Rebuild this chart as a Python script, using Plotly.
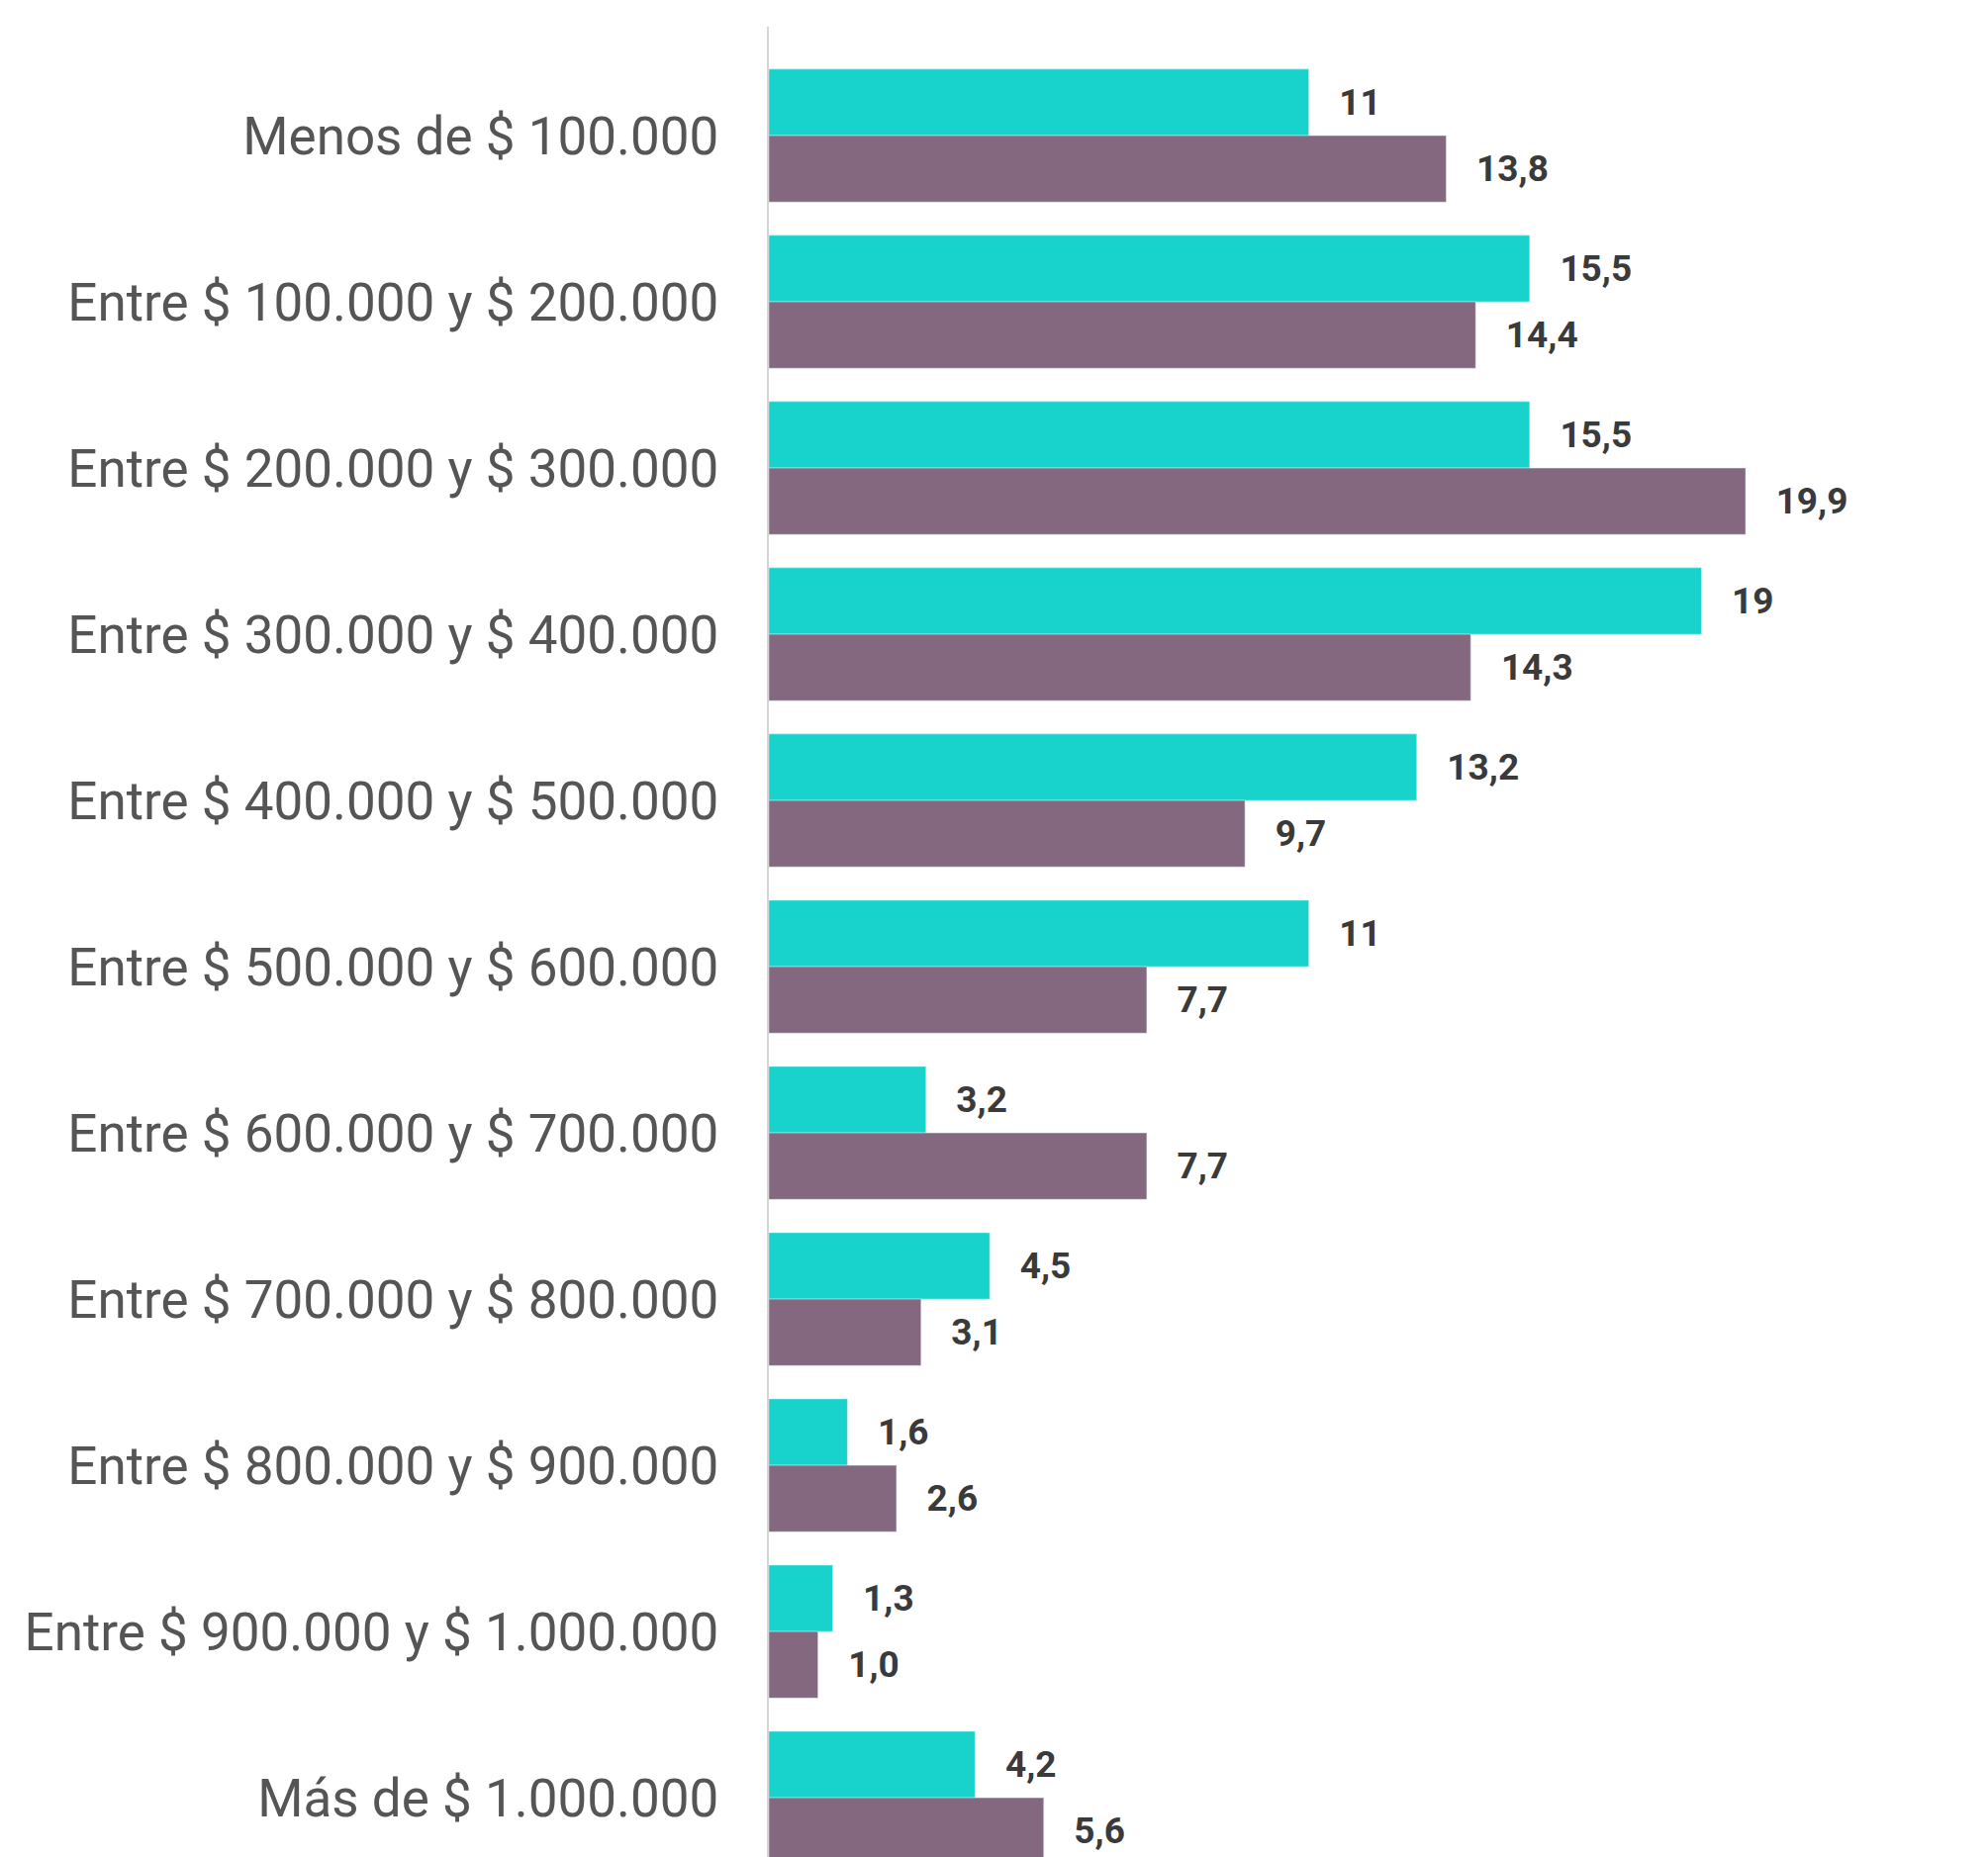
import plotly.graph_objects as go

categories = [
    "Menos de $ 100.000",
    "Entre $ 100.000 y $ 200.000",
    "Entre $ 200.000 y $ 300.000",
    "Entre $ 300.000 y $ 400.000",
    "Entre $ 400.000 y $ 500.000",
    "Entre $ 500.000 y $ 600.000",
    "Entre $ 600.000 y $ 700.000",
    "Entre $ 700.000 y $ 800.000",
    "Entre $ 800.000 y $ 900.000",
    "Entre $ 900.000 y $ 1.000.000",
    "Más de $ 1.000.000",
]
serie_a = [11, 15.5, 15.5, 19, 13.2, 11, 3.2, 4.5, 1.6, 1.3, 4.2]
serie_b = [13.8, 14.4, 19.9, 14.3, 9.7, 7.7, 7.7, 3.1, 2.6, 1.0, 5.6]

TEAL = "#17D3CC"
PURPLE = "#84687F"
LABEL_FONT = dict(family="Roboto, Lato, sans-serif", size=37, color="#3a3a3a", weight="bold")

fig = go.Figure()
fig.add_trace(go.Bar(
    y=categories, x=serie_a, orientation="h", marker_color=TEAL,
    texttemplate="   %{x}", textposition="outside", textfont=LABEL_FONT,
    cliponaxis=False, showlegend=False,
))
fig.add_trace(go.Bar(
    y=categories, x=serie_b, orientation="h", marker_color=PURPLE,
    texttemplate="   %{x:.1f}", textposition="outside", textfont=LABEL_FONT,
    cliponaxis=False, showlegend=False,
))

fig.update_layout(
    width=2009, height=1877,
    margin=dict(l=769, r=0, t=19, b=0),
    paper_bgcolor="white", plot_bgcolor="white",
    barmode="group", bargap=0.2, bargroupgap=0.0,
    separators=",.",
    xaxis=dict(range=[0, 25], showgrid=False, zeroline=False, showticklabels=False,
               showline=False, ticks=""),
    yaxis=dict(type="category", range=[10.404, -0.655], autorange=False,
               showgrid=False, zeroline=False, showline=True, linecolor="#d6d6d6",
               linewidth=2, ticks="", ticklabelstandoff=38,
               tickfont=dict(family="Roboto, sans-serif", size=53, color="#555555")),
)

fig.write_html("out.html")
